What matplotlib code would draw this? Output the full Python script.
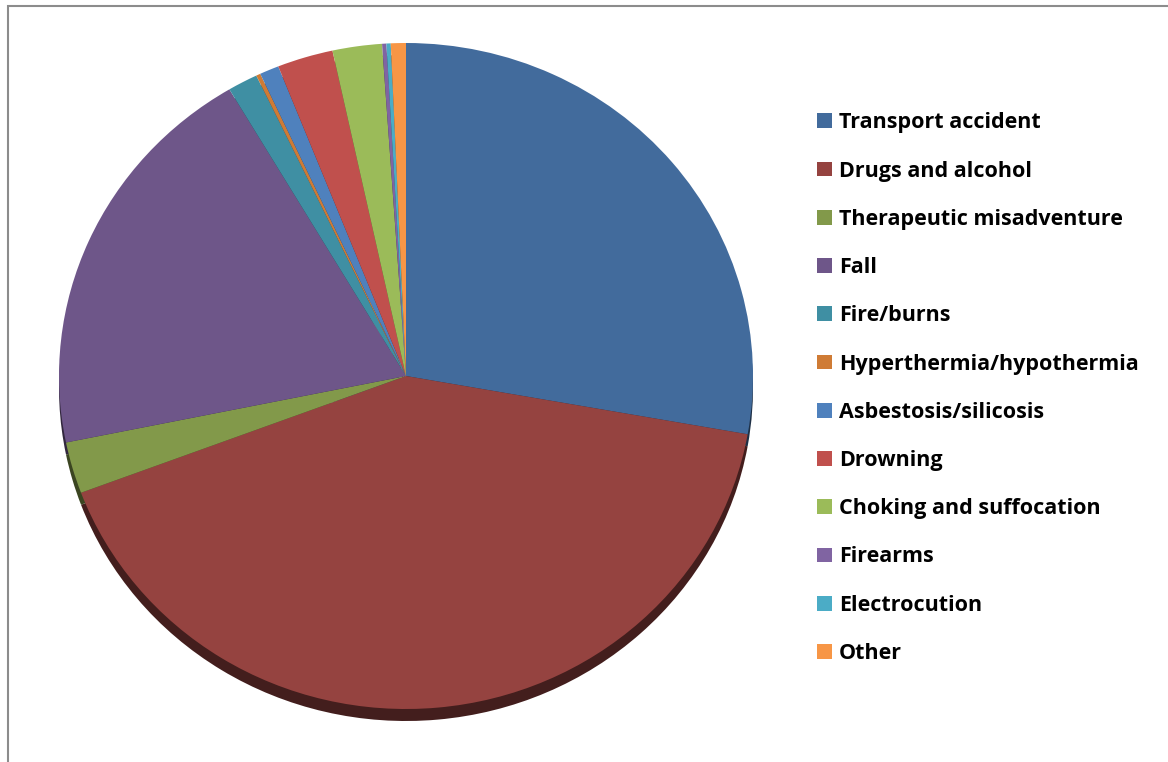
import matplotlib.pyplot as plt
from matplotlib.patches import Rectangle

# causes of death (share of the pie)
causes = ["Transport accident", "Drugs and alcohol", "Therapeutic misadventure",
          "Fall", "Fire/burns", "Hyperthermia/hypothermia", "Asbestosis/silicosis",
          "Drowning", "Choking and suffocation", "Firearms", "Electrocution", "Other"]
shares = [27.8, 41.5, 2.5, 19.7, 1.4, 0.2, 0.9, 2.6, 2.3, 0.2, 0.2, 0.7]
colours = ["#426B9C", "#954340", "#82994A", "#6E5689", "#3F8FA3", "#CF7B35",
           "#4F81BD", "#C0504D", "#9BBB59", "#8064A2", "#4BACC6", "#F79646"]

W, H = 1168, 762
fig = plt.figure(figsize=(W / 100, H / 100), dpi=100)
ax = fig.add_axes([0, 0, 1, 1])

# pixel geometry of the (slightly squashed) pie
cx, cy, rx, ry = 406, 376, 347, 333


def darker(c, f=0.45):
    r, g, b = int(c[1:3], 16), int(c[3:5], 16), int(c[5:7], 16)
    return (r * f / 255, g * f / 255, b * f / 255)


# dark side of the "3D" pie, shifted down a bit
ax.pie(shares, colors=[darker(c) for c in colours], startangle=90, counterclock=False,
       center=(0, -12 / ry), radius=1, wedgeprops={"linewidth": 0})
wedges, _ = ax.pie(shares, colors=colours, startangle=90, counterclock=False,
                   radius=1, wedgeprops={"linewidth": 0})

ax.set_aspect("auto")
ax.set_xlim(-cx / rx, (W - cx) / rx)
ax.set_ylim((cy - H) / ry, cy / ry)
ax.axis("off")

leg = fig.legend(wedges, causes, loc="upper left",
                 bbox_to_anchor=(798 / W, 1 - 93 / H), frameon=False,
                 prop={"family": "Open Sans", "weight": "bold", "size": 15.5},
                 handlelength=0.68, handleheight=0.68, handletextpad=0.32,
                 labelspacing=1.265)

# grey frame round the chart area
fig.patches.append(Rectangle((8 / W, -0.1), 1.2, 1.1 - 6 / H, transform=fig.transFigure,
                             fill=False, edgecolor="#8c8c8c", linewidth=1.5))

fig.savefig("out.png", dpi=100)
